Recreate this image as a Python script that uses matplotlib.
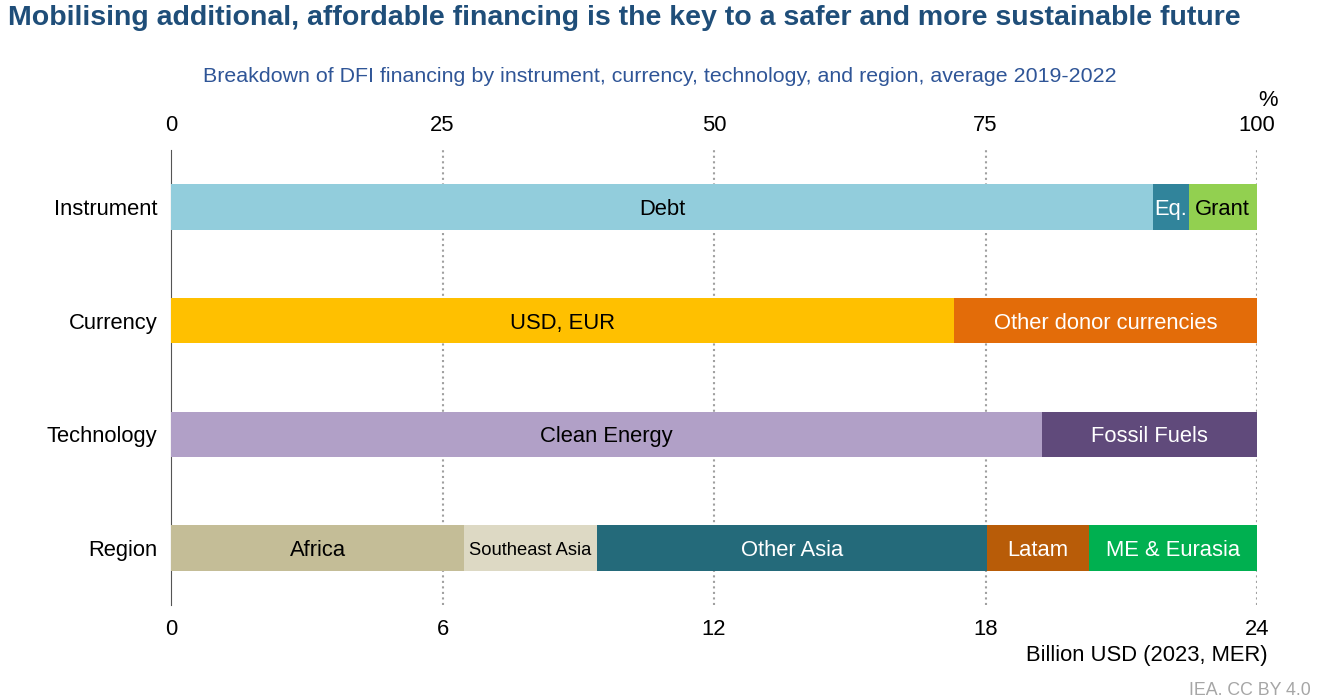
import matplotlib.pyplot as plt
import numpy as np

plt.rcParams['font.family'] = ['Liberation Sans', 'DejaVu Sans']

categories = ["Instrument", "Currency", "Technology", "Region"]

# share of total (%) per segment, left to right
instrument = [("Debt", 90.4), ("Eq.", 3.3), ("Grant", 6.3)]
currency = [("USD, EUR", 72.1), ("Other donor currencies", 27.9)]
technology = [("Clean Energy", 80.2), ("Fossil Fuels", 19.8)]
region = [("Africa", 27.0), ("Southeast Asia", 12.2), ("Other Asia", 35.9),
          ("Latam", 9.4), ("ME & Eurasia", 15.5)]

pct_ticks = [0, 25, 50, 75, 100]
usd_ticks = [0, 6, 12, 18, 24]
total_usd = 24

colors = {
    "Debt": ("#92CDDC", "black"), "Eq.": ("#31849B", "white"), "Grant": ("#92D050", "black"),
    "USD, EUR": ("#FFC000", "black"), "Other donor currencies": ("#E36C09", "white"),
    "Clean Energy": ("#B1A0C7", "black"), "Fossil Fuels": ("#604A7B", "white"),
    "Africa": ("#C4BD97", "black"), "Southeast Asia": ("#DDD9C4", "black"),
    "Other Asia": ("#246A7A", "white"), "Latam": ("#B85C08", "white"),
    "ME & Eurasia": ("#00B050", "white"),
}

fig = plt.figure(figsize=(13.33, 7), dpi=100)
ax = fig.add_axes([0.1283, 0.1357, 0.8147, 0.65])

rows = [instrument, currency, technology, region]
for i, row in enumerate(rows):
    left = 0
    for name, val in row:
        fc, tc = colors[name]
        ax.barh(i, val, left=left, height=0.4, color=fc, zorder=3)
        fs = 15.8
        if name == "Southeast Asia":
            fs = 13.2
        ax.text(left + val / 2, i, name, ha='center', va='center_baseline', color=tc,
                fontsize=fs, zorder=4)
        left += val

ax.set_xlim(0, 100)
ax.set_ylim(3.5, -0.5)
ax.set_yticks(range(len(categories)))
ax.set_yticklabels(categories)
ax.xaxis.tick_top()
ax.set_xticks(pct_ticks)
ax.tick_params(axis='both', length=0, labelsize=15.8)
ax.tick_params(axis='x', pad=10)
ax.tick_params(axis='y', pad=10)
for x in pct_ticks[1:]:
    ax.axvline(x, color='#A0A0A0', linestyle=':', linewidth=1.5, zorder=1)
for s in ['top', 'right', 'bottom']:
    ax.spines[s].set_visible(False)
ax.spines['left'].set_color('#555555')

sec = ax.secondary_xaxis('bottom', functions=(lambda x: x * total_usd / 100,
                                              lambda x: x * 100 / total_usd))
sec.set_xticks(usd_ticks)
sec.tick_params(length=0, labelsize=15.8, pad=10)
sec.spines['bottom'].set_visible(False)

fig.text(0.006, 0.974, "Mobilising additional, affordable financing is the key to a safer and more sustainable future",
         fontsize=20.5, fontweight='bold', color='#1F4E79', va='center', ha='left')
fig.text(0.495, 0.89, "Breakdown of DFI financing by instrument, currency, technology, and region, average 2019-2022",
         fontsize=15.4, color='#2F5597', ha='center', va='center')
fig.text(0.951, 0.856, "%", fontsize=15.8, ha='center', va='center')
fig.text(0.951, 0.064, "Billion USD (2023, MER)", fontsize=15.8, ha='right', va='center')
fig.text(0.983, 0.014, "IEA. CC BY 4.0", fontsize=12.8, color='#A6A6A6', ha='right', va='center')

fig.savefig("out.png", dpi=100)
